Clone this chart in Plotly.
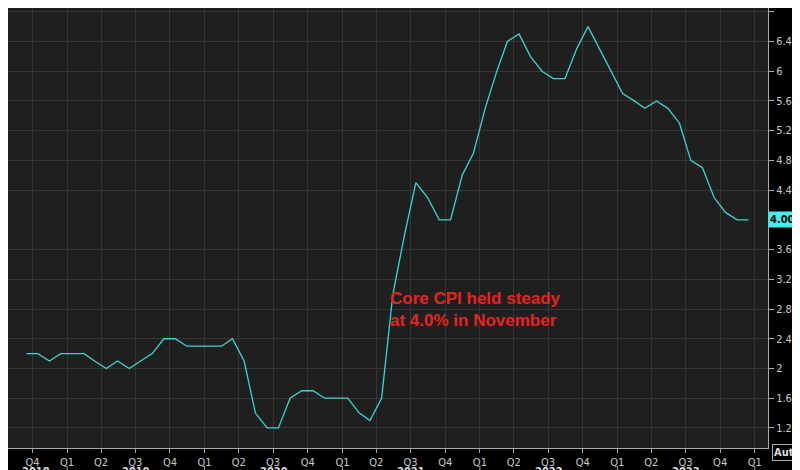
import plotly.graph_objects as go
import pandas as pd

values = [2.2,2.2,2.1,2.2,2.2,
          2.2,2.1,2.0,2.1,2.0,2.1,2.2,2.4,2.4,2.3,2.3,2.3,
          2.3,2.4,2.1,1.4,1.2,1.2,1.6,1.7,1.7,1.6,1.6,1.6,
          1.4,1.3,1.6,3.0,3.8,4.5,4.3,4.0,4.0,4.6,4.9,5.5,
          6.0,6.4,6.5,6.2,6.0,5.9,5.9,6.3,6.6,6.3,6.0,5.7,
          5.6,5.5,5.6,5.5,5.3,4.8,4.7,4.3,4.1,4.0,4.0]
dates = pd.date_range("2018-08-15", periods=len(values), freq="MS") + pd.Timedelta(days=14)
qticks = pd.date_range("2018-10-01", "2024-01-01", freq="QS")
qlabels = ["Q%d" % ((d.month - 1)//3 + 1) for d in qticks]
years = [2018, 2019, 2020, 2021, 2022, 2023]
yticks = [1.2,1.6,2,2.4,2.8,3.2,3.6,4.4,4.8,5.2,5.6,6,6.4,6.8]

FONT = "DejaVu Sans Condensed, DejaVu Sans"
xr = [pd.Timestamp("2018-07-28"), pd.Timestamp("2024-02-05")]
fig = go.Figure()
fig.add_trace(go.Scatter(x=dates, y=values, mode="lines",
                         line=dict(color="#3ad6d0", width=1.3), hoverinfo="skip"))
fig.update_layout(
    width=800, height=470, margin=dict(l=0, r=40, t=0, b=30, autoexpand=False),
    paper_bgcolor="#000000", plot_bgcolor="#1f1f1f", showlegend=False,
    xaxis=dict(range=xr, tickvals=qticks, ticktext=qlabels, showgrid=True, automargin=False,
               gridcolor="#353535", gridwidth=1, ticks="outside", ticklen=4,
               tickcolor="#aaa", tickfont=dict(family=FONT, size=11, color="#c8c8c8"),
               showline=True, linecolor="#aaa", zeroline=False),
    yaxis=dict(range=[0.93, 6.85], side="right", tickvals=yticks, automargin=False,
               ticktext=[f"{v:g}" for v in yticks], showgrid=True,
               gridcolor="#353535", ticks="outside", ticklen=5, tickcolor="#aaa",
               tickfont=dict(family=FONT, size=11, color="#c8c8c8"),
               showline=True, linecolor="#aaa", zeroline=False),
)
for y in years:
    a = max(pd.Timestamp(f"{y}-01-01"), xr[0])
    b = pd.Timestamp(f"{y+1}-01-01")
    mid = a + (b - a) / 2
    if y == 2018:
        mid = pd.Timestamp("2018-10-10")
    fig.add_annotation(x=mid, y=-0.054, xref="x", yref="paper", yanchor="middle",
                       text=f"<b>{y}</b>", showarrow=False,
                       font=dict(family=FONT, size=11, color="#dddddd"))
    fig.add_shape(type="line", x0=b, x1=b, xref="x", yref="paper", y0=-0.04, y1=-0.07,
                  line=dict(color="#aaa", width=1))
fig.add_annotation(x=pd.Timestamp("2021-05-01"), y=3.1, xref="x", yref="y",
                   text="<b>Core CPI held steady<br>at 4.0% in November</b>", showarrow=False,
                   align="left", xanchor="left", yanchor="top",
                   font=dict(family="Liberation Sans, Arial", size=17, color="#e8231f"))
fig.add_annotation(x=1.0, y=4.0, xref="paper", yref="y", xanchor="left", text="<b>4.000</b>",
                   showarrow=False, bgcolor="#3ff0f0", borderpad=1,
                   font=dict(family=FONT, size=11, color="#000"))
fig.add_annotation(x=1.005, y=-0.01, xref="paper", yref="paper", xanchor="left", yanchor="middle",
                   text="<b>Auto</b>", showarrow=False, bordercolor="#aaa", borderwidth=1,
                   bgcolor="#000", borderpad=1,
                   font=dict(family=FONT, size=11, color="#ddd"))
fig.write_html("out.html")
